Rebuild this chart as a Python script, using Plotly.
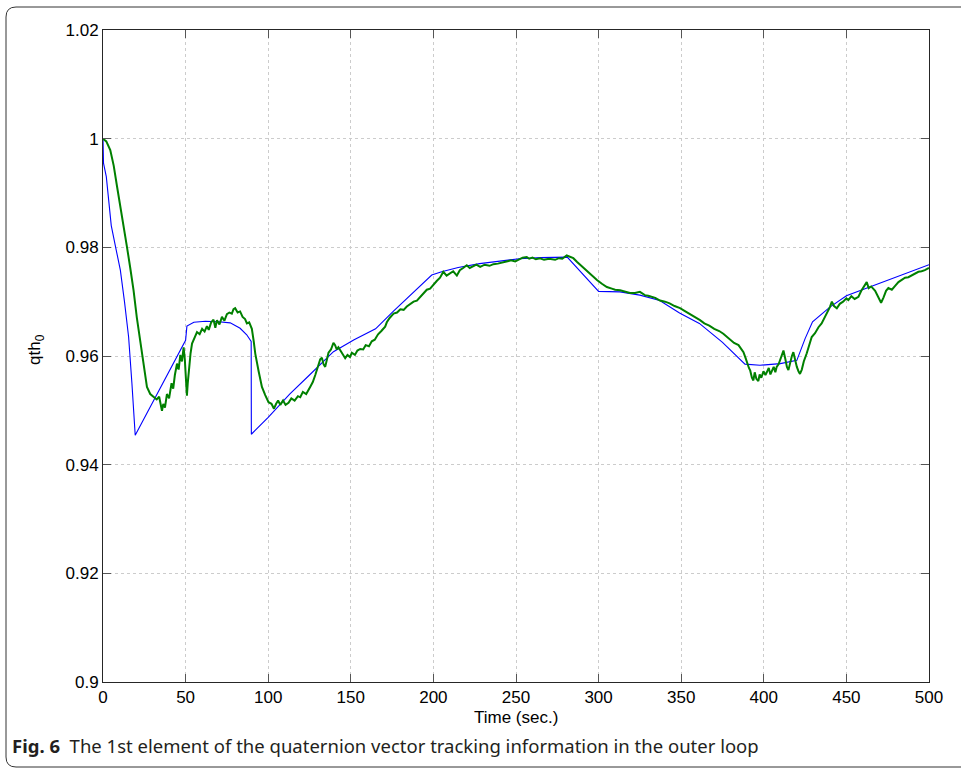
import plotly.graph_objects as go

# Reference (blue) trajectory
ref_t = [0, 0.3, 2, 5, 8, 10.5, 13, 15.5, 17.5, 19.5, 50, 50.8, 55, 62, 70, 77, 83, 87, 89.7, 89.8,
         100, 113, 125, 139.5, 152, 165, 176, 188, 199, 205, 215, 228, 240, 252, 265, 281,
         300, 313, 325, 337, 349, 361, 375, 388.6, 397.7, 410, 420, 425, 429.5, 440, 450, 475, 500]
ref_v = [1.0, 0.9955, 0.9930, 0.9840, 0.9795, 0.9758, 0.9700, 0.9635, 0.9550, 0.9454, 0.9629, 0.9655,
         0.9662, 0.9664, 0.9663, 0.9661, 0.9651, 0.9639, 0.9627, 0.9456,
         0.9487, 0.9530, 0.9565, 0.9608, 0.9630, 0.9650, 0.9683, 0.9718, 0.9749, 0.9755, 0.9763,
         0.9770, 0.9775, 0.9779, 0.9781, 0.9782,
         0.9719, 0.9718, 0.9712, 0.9702, 0.9679, 0.9660, 0.9625, 0.9585, 0.9583, 0.9586, 0.9592,
         0.9632, 0.9663, 0.9690, 0.9711, 0.9740, 0.9768]

# Actual (green) trajectory
act_t = [0, 2, 4.4, 6.5, 8.5, 11.5, 14.5, 16.5, 18.5, 20.5, 22.6, 24.6, 26.6, 28.6, 30.6, 32.5, 34,
         35.2, 35.7, 36.5, 37.5, 38.7, 40, 41.5, 42.5, 43.5, 44.8, 45.8, 46.8, 47.8, 48.8, 49.5,
         50.3, 50.8, 51.3, 51.8, 53, 53.9, 55.5, 56.9, 58.5, 60, 61.5, 62.9, 64, 65.5, 66.9, 68,
         69, 70.5, 72, 73.5, 75, 76.5, 78, 79, 80, 81.5, 83, 84.5, 86, 87.1, 88.5, 90.1, 91.2,
         92.2, 94.2, 96.2, 98.2, 100.2, 102, 103.5, 104.8, 106, 107.3, 109, 110.5, 112.3, 114,
         116, 118, 119.4, 121, 123, 125.4, 127, 128.5, 130, 131.5, 132.5, 133.5, 134.5, 135.5,
         136.5, 138, 139.5, 140.5, 141.5, 142.5, 144, 145.5, 146.6, 148, 149.5, 150.6, 152.5,
         154, 155.7, 157.5, 159, 161, 162.7, 164.5, 166.5, 168.5, 170.8, 171.8, 173.5, 175.9,
         178, 180, 182, 183.9, 186, 188, 190, 192, 194, 196, 198, 200, 202, 204, 206, 208, 210,
         212, 214.2, 216, 218, 220.2, 222, 224, 226, 228.3, 231, 234, 236.3, 239, 242, 244.4,
         247, 249.5, 252, 254, 256.5, 258, 260, 262, 264.5, 267, 270, 273.7, 276, 278, 280.7,
         282.5, 284.7, 287, 290.2, 293, 296, 299, 302, 305, 308, 310, 313, 316, 319, 322, 325,
         328, 330, 334.3, 337.2, 340.2, 343, 346, 349.3, 352, 355, 358, 361.4, 364, 367, 370,
         373, 375.5, 378, 380, 382, 384.7, 386.5, 387.7, 389, 390, 391, 391.8, 392.8, 393.7,
         394.5, 395.5, 396.7, 397.5, 398.5, 399.8, 401, 401.8, 403, 404, 405, 406, 407, 407.8,
         409, 410, 411, 411.9, 413, 414, 414.9, 416, 417, 417.9, 419, 420, 421, 421.9, 423,
         424.2, 426, 427.5, 429, 431, 433.1, 435, 437, 439.1, 440, 441.2, 442.5, 444.2, 446,
         448, 450, 451.2, 453, 455, 457.3, 459, 460.5, 462.3, 463.5, 465, 467.4, 469, 470.3,
         471, 472.5, 474, 475.4, 477.5, 479.5, 481.5, 483.5, 485.5, 487.5, 489.5, 491.5, 493.6,
         495.5, 497.5, 500]
act_v = [1.0, 0.9995, 0.9979, 0.9950, 0.9912, 0.9860, 0.9801, 0.9762, 0.9721, 0.9670, 0.9623,
         0.9578, 0.9543, 0.9530, 0.9524, 0.9520, 0.9525, 0.9510, 0.9499, 0.9512, 0.9505, 0.9530,
         0.9522, 0.9550, 0.9540, 0.9565, 0.9586, 0.9575, 0.9602, 0.9590, 0.9616, 0.9595, 0.9560,
         0.9527, 0.9550, 0.9571, 0.9605, 0.9623, 0.9635, 0.9644, 0.9640, 0.9650, 0.9645, 0.9655,
         0.9648, 0.9662, 0.9667, 0.9652, 0.9666, 0.9658, 0.9672, 0.9665, 0.9677, 0.9680, 0.9678,
         0.9686, 0.9688, 0.9680, 0.9682, 0.9672, 0.9668, 0.9660, 0.9662, 0.9650, 0.9628, 0.9604,
         0.9572, 0.9543, 0.9528, 0.9515, 0.9512, 0.9503, 0.9512, 0.9518, 0.9510, 0.9518, 0.9510,
         0.9514, 0.9522, 0.9518, 0.9526, 0.9524, 0.9534, 0.9530, 0.9543, 0.9552, 0.9565, 0.9578,
         0.9594, 0.9597, 0.9585, 0.9580, 0.9595, 0.9606, 0.9612, 0.9624, 0.9620, 0.9612, 0.9616,
         0.9608, 0.9602, 0.9596, 0.9602, 0.9598, 0.9606, 0.9602, 0.9610, 0.9613, 0.9612, 0.9620,
         0.9618, 0.9627, 0.9630, 0.9640, 0.9646, 0.9654, 0.9662, 0.9670, 0.9678, 0.9680, 0.9686,
         0.9685, 0.9691, 0.9695, 0.9700, 0.9702, 0.9709, 0.9716, 0.9722, 0.9724, 0.9732, 0.9738,
         0.9744, 0.9755, 0.9748, 0.9752, 0.9756, 0.9748, 0.9758, 0.9762, 0.9767, 0.9762, 0.9765,
         0.9768, 0.9764, 0.9768, 0.9766, 0.9769, 0.9770, 0.9772, 0.9773, 0.9776, 0.9774, 0.9778,
         0.9781, 0.9782, 0.9779, 0.9781, 0.9778, 0.9780, 0.9777, 0.9779, 0.9777, 0.9780, 0.9779,
         0.9785, 0.9783, 0.9780, 0.9773, 0.9764, 0.9756, 0.9748, 0.9740, 0.9733, 0.9727, 0.9724,
         0.9722, 0.9721, 0.9719, 0.9716, 0.9716, 0.9718, 0.9712, 0.9711, 0.9707, 0.9702, 0.9700,
         0.9697, 0.9692, 0.9688, 0.9683, 0.9678, 0.9672, 0.9666, 0.9660, 0.9656, 0.9650, 0.9646,
         0.9641, 0.9634, 0.9630, 0.9624, 0.9620, 0.9612, 0.9607, 0.9596, 0.9585, 0.9578, 0.9573,
         0.9560, 0.9555, 0.9570, 0.9558, 0.9554, 0.9566, 0.9560, 0.9572, 0.9565, 0.9570, 0.9578,
         0.9566, 0.9572, 0.9580, 0.9570, 0.9580, 0.9585, 0.9595, 0.9605, 0.9610, 0.9595, 0.9580,
         0.9574, 0.9590, 0.9600, 0.9607, 0.9592, 0.9580, 0.9572, 0.9567, 0.9575, 0.9590, 0.9605,
         0.9620, 0.9635, 0.9642, 0.9653, 0.9660, 0.9672, 0.9684, 0.9690, 0.9700, 0.9692, 0.9688,
         0.9696, 0.9700, 0.9706, 0.9703, 0.9710, 0.9705, 0.9709, 0.9720, 0.9728, 0.9736, 0.9725,
         0.9728, 0.9720, 0.9710, 0.9702, 0.9698, 0.9708, 0.9720, 0.9725, 0.9722, 0.9729, 0.9736,
         0.9740, 0.9744, 0.9745, 0.9748, 0.9752, 0.9755, 0.9756, 0.9758, 0.9762]

x_ticks = [0, 50, 100, 150, 200, 250, 300, 350, 400, 450, 500]
y_ticks = [0.9, 0.92, 0.94, 0.96, 0.98, 1.0, 1.02]
y_tick_labels = ["0.9", "0.92", "0.94", "0.96", "0.98", "1", "1.02"]

W, H = 961, 771
L, R, T, B = 103, 32, 30, 89
pw, ph = W - L - R, H - T - B


def px(xp):
    return (xp - L) / pw


def py(yp):
    return (H - B - yp) / ph


fig = go.Figure()
fig.add_trace(go.Scatter(x=ref_t, y=ref_v, mode="lines",
                         line=dict(color="#0000ff", width=1.1), showlegend=False))
fig.add_trace(go.Scatter(x=act_t, y=act_v, mode="lines",
                         line=dict(color="#008000", width=2), showlegend=False))

axis_common = dict(showline=True, linecolor="#262626", linewidth=1, mirror="ticks",
                   ticks="inside", ticklen=8, tickwidth=1, tickcolor="#555555",
                   showgrid=True, gridcolor="#cccccc", griddash="dot", gridwidth=1,
                   zeroline=False,
                   tickfont=dict(family="Liberation Sans, Arial", size=17, color="black"))

fig.update_xaxes(range=[0, 500], tickvals=x_ticks, **axis_common)
fig.update_yaxes(range=[0.9, 1.02], tickvals=y_ticks, ticktext=y_tick_labels, **axis_common)

# rounded frame around figure
x0, y0, x1, y1, r = px(6), py(7), px(975), py(767), 10
rx, ry = r / pw, r / ph
path = (f"M {x0+rx} {y0} L {x1} {y0} M {x0+rx} {y0} Q {x0} {y0} {x0} {y0-ry} "
        f"L {x0} {y1+ry} Q {x0} {y1} {x0+rx} {y1} L {x1} {y1}")
fig.add_shape(type="path", path=path, xref="paper", yref="paper",
              line=dict(color="#333333", width=1))

fig.add_annotation(text="qth<sub>0</sub>", x=px(36), y=py(350), xref="paper", yref="paper",
                   textangle=-90, showarrow=False, xanchor="center", yanchor="middle",
                   font=dict(family="Liberation Sans, Arial", size=17, color="black"))
fig.add_annotation(text="Time (sec.)", x=px(516), y=py(718), xref="paper", yref="paper",
                   showarrow=False, xanchor="center", yanchor="middle",
                   font=dict(family="Liberation Sans, Arial", size=17, color="black"))
fig.add_annotation(text="<b>Fig. 6</b>  The 1st element of the quaternion vector tracking information in the outer loop",
                   x=px(10), y=py(745), xref="paper", yref="paper",
                   showarrow=False, xanchor="left", yanchor="middle",
                   font=dict(family="Noto Sans", size=18.5, color="#231f20"))

fig.update_layout(width=W, height=H, margin=dict(l=L, r=R, t=T, b=B),
                  paper_bgcolor="white", plot_bgcolor="white")

fig.write_html("out.html")
